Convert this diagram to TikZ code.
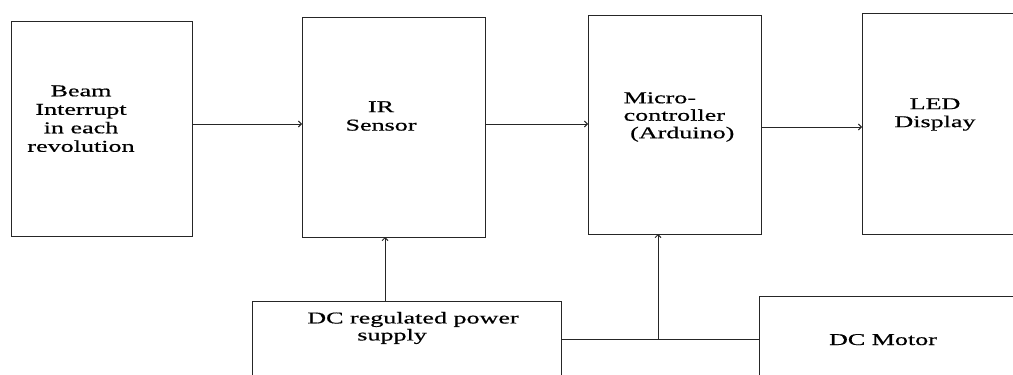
\documentclass[tikz,border=0pt]{standalone}
\usepackage{fontspec}
\setmainfont{Liberation Serif}[FakeStretch=1.58,FakeBold=0.6]
\usetikzlibrary{arrows.meta}
\begin{document}
\begin{tikzpicture}[x=1pt,y=-1pt,
  blk/.style={draw=black!85, line width=0.9pt, inner sep=0pt, outer sep=0pt},
  lbl/.style={inner sep=0pt, font=\fontsize{16.5}{18.5}\selectfont, text=black},
  conn/.style={draw=black!85, line width=0.9pt},
  arr/.style={conn, -{Straight Barb[length=3pt,width=6pt]}}]
\useasboundingbox (0,0) rectangle (1013,375);
\clip (0,0) rectangle (1013,375);
% blocks
\node[blk, minimum width=181pt, minimum height=215pt] (b1) at (101.5,128.5) {};
\node[blk, minimum width=183pt, minimum height=220pt] (b2) at (393.5,127) {};
\node[blk, minimum width=173pt, minimum height=219pt] (b3) at (674.5,124.5) {};
\node[blk, minimum width=168pt, minimum height=221pt] (b4) at (946,123.5) {};
\node[blk, minimum width=309pt, minimum height=94pt] (b5) at (406.5,348) {};
\node[blk, minimum width=271pt, minimum height=99pt] (b6) at (894.5,345.5) {};
% labels
\node[lbl, align=center] (t1) at (81,118.7) {Beam\\Interrupt\\in each\\revolution};
\node[lbl, align=center] (t2) at (381,116) {IR\\Sensor};
\node[lbl, align=left, font=\fontsize{16.5}{17.5}\selectfont] (t3) at (679,117) {Micro-\\controller\\\ (Arduino)};
\node[lbl, align=center, font=\fontsize{16.5}{18}\selectfont] (t4) at (935,114.5) {LED\\Display};
\node[lbl, align=left, font=\fontsize{16.5}{17}\selectfont] (t5) at (413,328) {DC regulated power\\\hspace*{50pt}supply};
\node[lbl, anchor=base] (t6) at (883,345) {DC Motor};
% helper coordinates
\coordinate (ya) at (0,124);
\coordinate (yb) at (0,127);
\coordinate (xa) at (385,0);
\coordinate (j) at (658,339);
% connectors
\draw[arr] (b1.east |- ya) -- (b2.west |- ya);
\draw[arr] (b2.east |- ya) -- (b3.west |- ya);
\draw[arr] (b3.east |- yb) -- (b4.west |- yb);
\draw[arr] (b5.north -| xa) -- (b2.south -| xa);
\draw[conn] (b5.east |- j) -- (b6.west |- j);
\draw[arr] (j) -- (b3.south -| j);
\end{tikzpicture}
\end{document}
